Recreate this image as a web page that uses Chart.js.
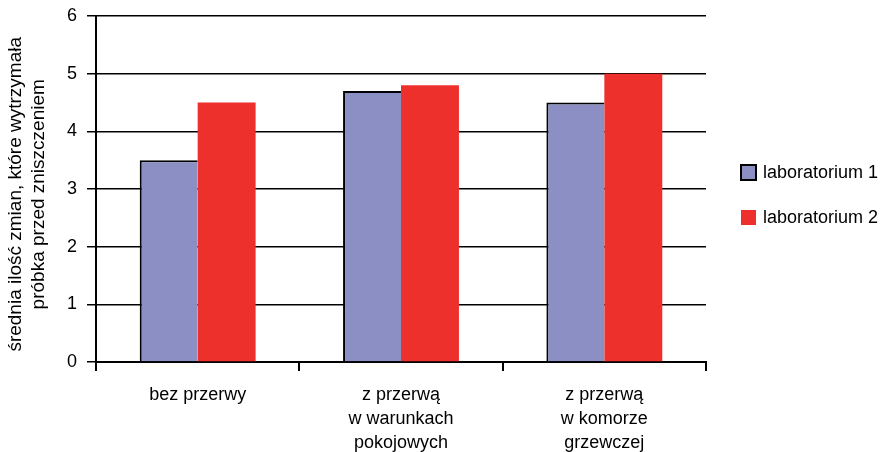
<!DOCTYPE html>
<html lang="pl">
<head>
<meta charset="UTF-8">
<title>średnia ilość zmian</title>
<script src="https://cdn.jsdelivr.net/npm/chart.js"></script>
<style>
  html, body { margin: 0; padding: 0; background: #fff; }
  #wrap { width: 885px; height: 452px; }
</style>
</head>
<body>
<div id="wrap"><canvas id="chart"></canvas></div>
<script>
const categories = [
  ['bez przerwy'],
  ['z przerwą', 'w warunkach', 'pokojowych'],
  ['z przerwą', 'w komorze', 'grzewczej']
];
const seriesNames = ['laboratorium 1', 'laboratorium 2'];
const lab1 = [3.5, 4.7, 4.5];
const lab2 = [4.5, 4.8, 5.0];
const yTicks = [0, 1, 2, 3, 4, 5, 6];
const yTitle = ['średnia ilość zmian, które wytrzymała', 'próbka przed zniszczeniem'];

const FONT = 'Liberation Sans, Arial, Helvetica, sans-serif';
const colors = ['#8b8fc4', '#ee302c'];

// title sits a little below the plot centre in the original
const pad = '\u00A0'.repeat(2);

// simple legend drawn to the right of the plot
const sideLegend = {
  id: 'sideLegend',
  afterDraw(chart) {
    const ctx = chart.ctx;
    const area = chart.chartArea;
    const x = area.right + 35;
    const mid = (area.top + area.bottom) / 2;
    ctx.save();
    ctx.font = '18px ' + FONT;
    ctx.textBaseline = 'middle';
    chart.data.datasets.forEach((ds, i) => {
      const y = mid - 17 + i * 45;
      ctx.fillStyle = ds.backgroundColor;
      ctx.fillRect(x, y - 7, 15, 15);
      if (i === 0) {
        ctx.strokeStyle = '#000';
        ctx.lineWidth = 2;
        ctx.strokeRect(x, y - 7, 15, 15);
      }
      ctx.fillStyle = '#000';
      ctx.fillText(ds.label, x + 22, y + 1);
    });
    ctx.restore();
  }
};

new Chart(document.getElementById('chart'), {
  type: 'bar',
  data: {
    labels: categories,
    datasets: [
      {
        label: seriesNames[0],
        data: lab1,
        backgroundColor: colors[0],
        borderColor: '#000',
        borderWidth: { left: 2, top: 2, right: 0, bottom: 0 },
        borderSkipped: false
      },
      {
        label: seriesNames[1],
        data: lab2,
        backgroundColor: colors[1],
        borderWidth: 0
      }
    ]
  },
  options: {
    responsive: true,
    maintainAspectRatio: false,
    animation: false,
    categoryPercentage: 0.57,
    barPercentage: 1,
    layout: { padding: { top: 16, right: 179, bottom: 0, left: 0 } },
    plugins: {
      legend: { display: false },
      tooltip: { enabled: false }
    },
    scales: {
      x: {
        grid: { drawOnChartArea: false, drawTicks: true, tickLength: 9, color: '#000', lineWidth: 2 },
        border: { display: true, color: '#000', width: 2 },
        ticks: {
          color: '#000',
          padding: 12,
          maxRotation: 0,
          font: { family: FONT, size: 18, lineHeight: 1.33 }
        },
        afterFit(scale) { scale.height = 90; }
      },
      y: {
        min: 0,
        max: 6,
        afterBuildTicks(scale) { scale.ticks = yTicks.map(v => ({ value: v })); },
        grid: { color: '#000', lineWidth: 1.5, tickLength: 9 },
        border: { display: true, color: '#000', width: 2 },
        ticks: {
          color: '#000',
          padding: 10,
          font: { family: FONT, size: 18 }
        },
        title: {
          display: true,
          text: yTitle.map(t => t + pad),
          color: '#000',
          padding: { top: 5, bottom: 0 },
          font: { family: FONT, size: 19, lineHeight: 1.18 }
        },
        afterFit(scale) {
          scale.width = 96;
          scale.paddingTop = 0;
          scale.paddingBottom = 0;
        }
      }
    }
  },
  plugins: [sideLegend]
});
</script>
</body>
</html>
